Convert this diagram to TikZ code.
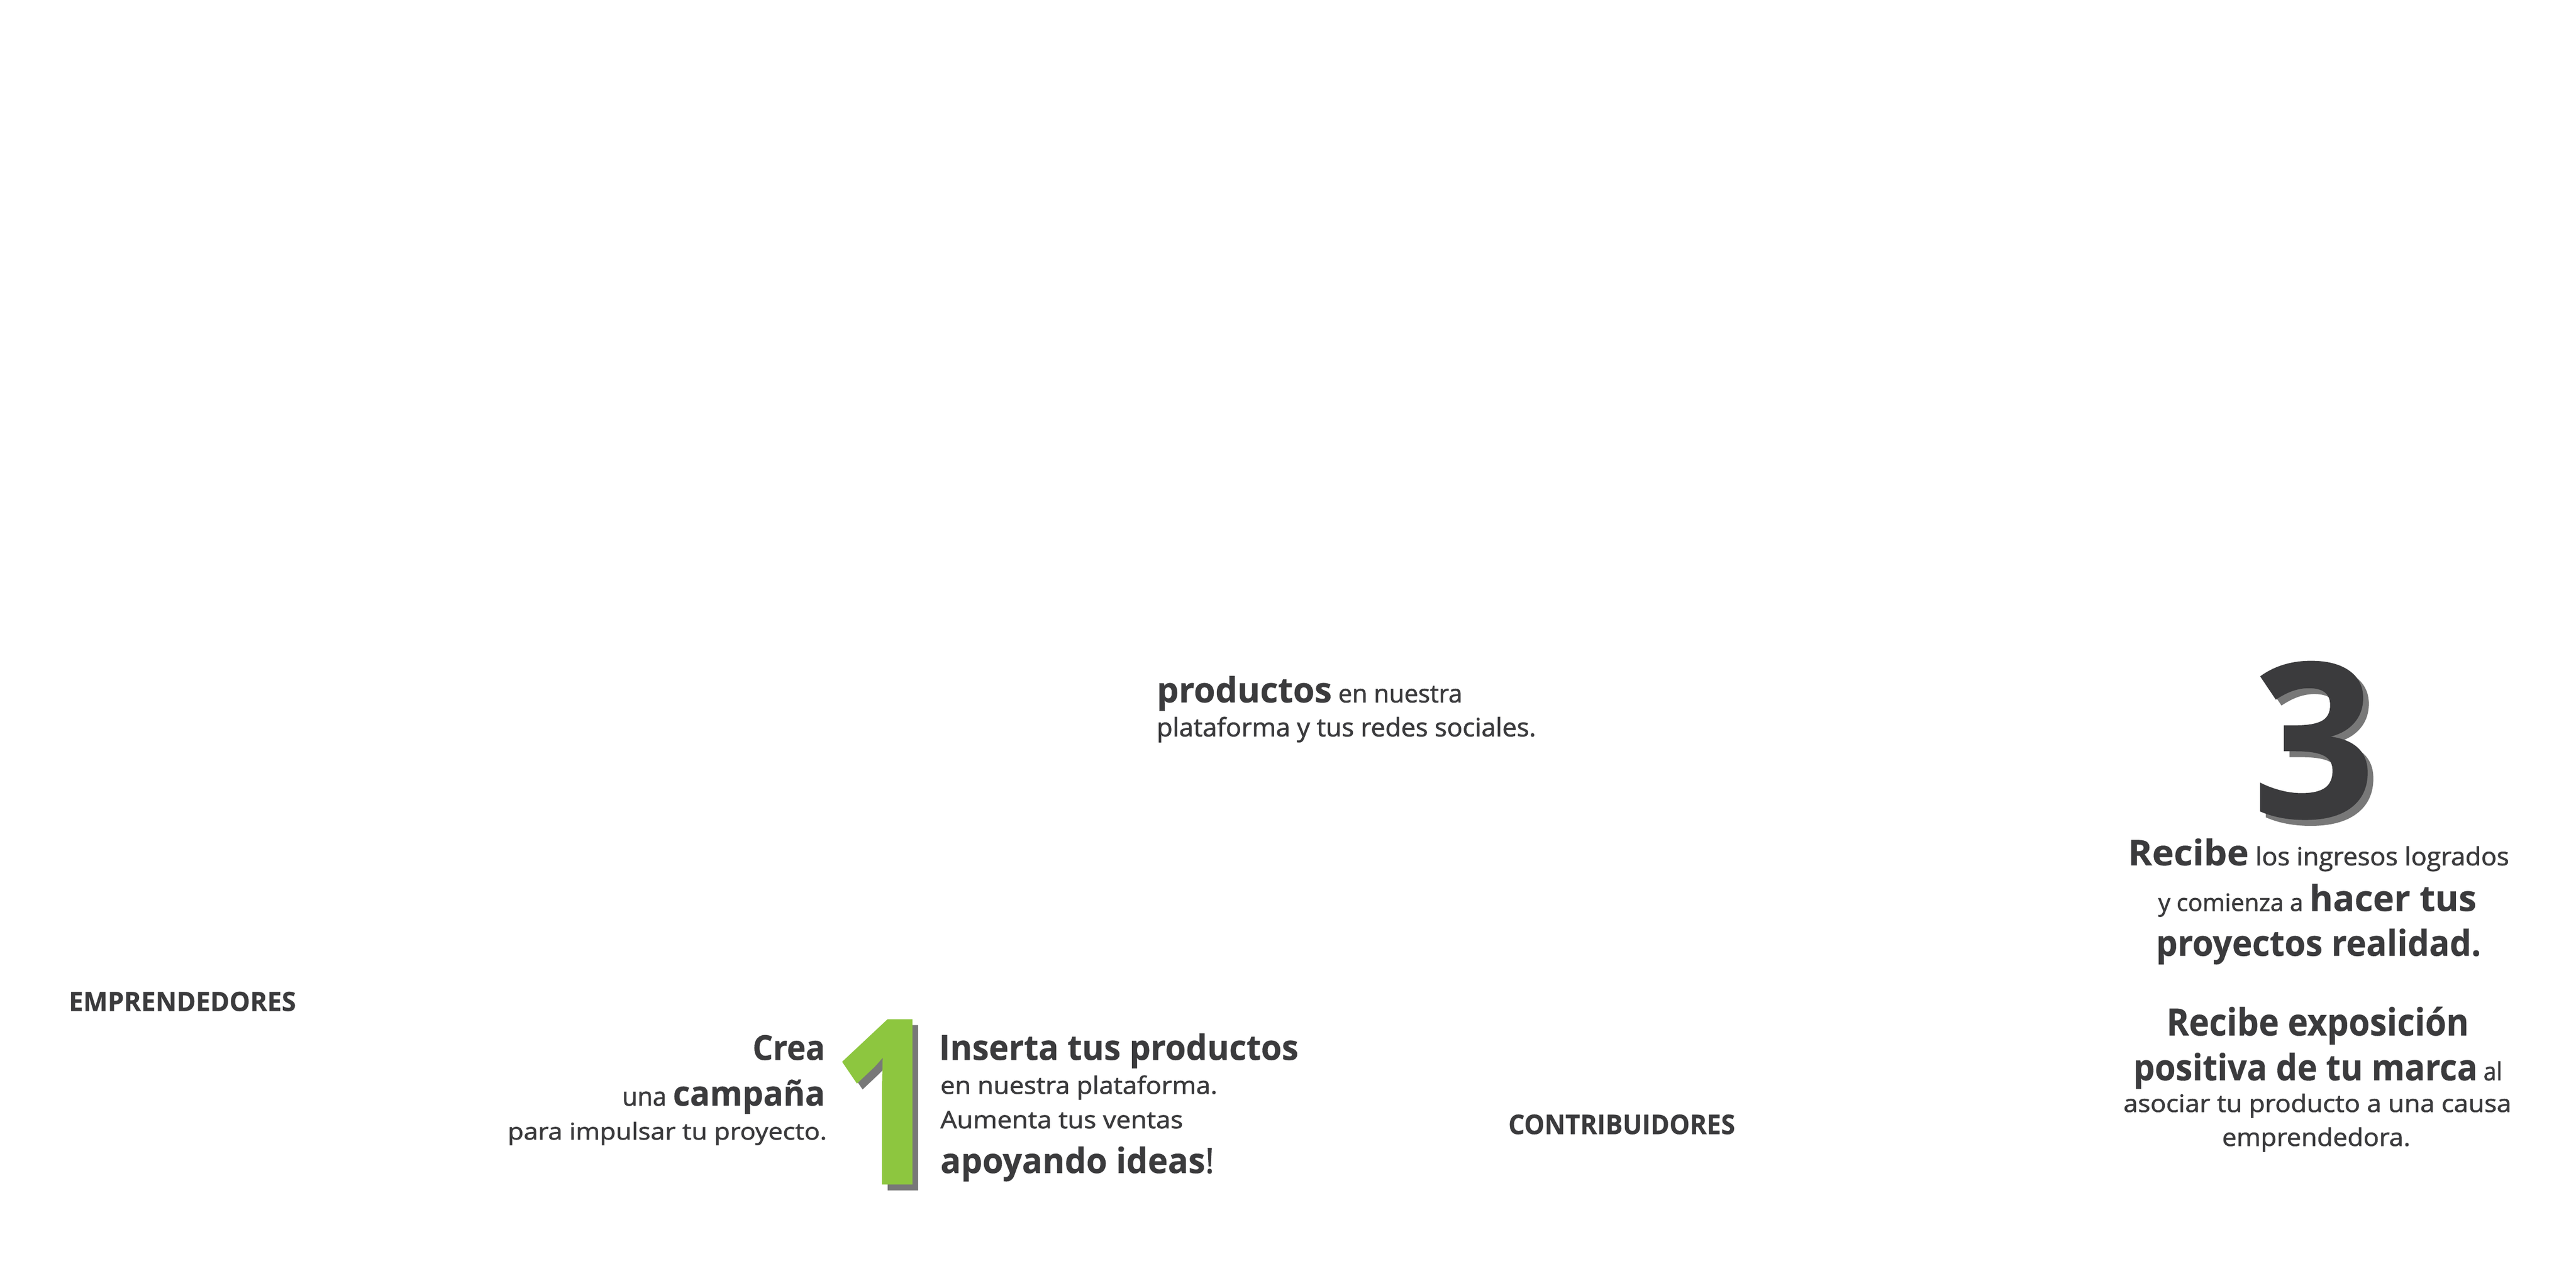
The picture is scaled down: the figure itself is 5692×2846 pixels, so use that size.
\documentclass[tikz,border=0pt]{standalone}
\usepackage{fontspec}
\setmainfont{Open Sans}[BoldFeatures={FakeBold=0.5}]
\newfontfamily\regfam{Open Sans}[UprightFeatures={FakeBold=1.6}]
\usepackage{graphicx}
\newlength\pxu \setlength\pxu{0.01cm}
\newcommand\fsz[1]{\edef\fsztmp{\the\dimexpr#1\pxu\relax}\fontsize{\fsztmp}{\fsztmp}\selectfont}
\newcommand\fitw[2]{\resizebox{#1\pxu}{\height}{#2}}
\newcommand\rgf[1]{\regfam\fsz{#1}\mdseries}
\newcommand\bdf[1]{\normalfont\fsz{#1}\bfseries}
\definecolor{ink}{RGB}{59,59,61}
\definecolor{leaf}{RGB}{141,198,63}
\definecolor{shade}{RGB}{120,120,120}
\begin{document}
\begin{tikzpicture}[x=0.01cm,y=-0.01cm,
  txt/.style={inner sep=0pt,outer sep=0pt,text=ink},
  bw/.style={txt,anchor=base west},
  be/.style={txt,anchor=base east},
  bignum/.style={txt,anchor=base}]
\fill[white] (0,0) rectangle (5692,2846);
\useasboundingbox (0,0) rectangle (5692,2846);
% headings
\node[bw] (emp) at (152,2234) {\fitw{502}{\bdf{59}EMPRENDEDORES}};
\node[bw] (con) at (3333,2506) {\fitw{501}{\bdf{60}CONTRIBUIDORES}};
% top middle
\node[bw] (t1) at (2556,1552) {\fitw{675}{\bdf{77}productos\rgf{55} en nuestra}};
\node[bw] (t2) at (2556,1627) {\fitw{838}{\rgf{56}plataforma y tus redes sociales.}};
% left block
\node[be] (l1) at (1823,2342) {\fitw{160}{\bdf{76}Crea}};
\node[be] (l2) at (1823,2443) {\fitw{448}{\rgf{57}una \bdf{76}campaña}};
\node[be] (l3) at (1827,2518) {\fitw{705}{\rgf{51}para impulsar tu proyecto.}};
% number 1
\node[bignum,text=shade] (oneshadow) at (1972.5,2629) {\scalebox{0.85}[1]{\bdf{508}1}};
\node[bignum,text=leaf] (one) at (1960,2616) {\scalebox{0.85}[1]{\bdf{508}1}};
% middle block
\node[bw] (m1) at (2075,2342) {\fitw{794}{\bdf{77}Inserta tus productos}};
\node[bw] (m2) at (2078,2417) {\fitw{612}{\rgf{53}en nuestra plataforma.}};
\node[bw] (m3) at (2078,2493) {\fitw{536}{\rgf{53}Aumenta tus ventas}};
\node[bw] (m4) at (2078,2592) {\fitw{605}{\bdf{77}apoyando ideas\rgf{77}!}};
% number 3
\node[bignum,text=shade] (threeshadow) at (5125.5,1819) {\bdf{476}3};
\node[bignum] (three) at (5113,1806) {\bdf{476}3};
% right block
\node[bw] (r1) at (4702,1912) {\fitw{842}{\bdf{78}Recibe\rgf{55} los ingresos logrados}};
\node[bw] (r2) at (4769,2013) {\fitw{703}{\rgf{53}y comienza a \bdf{79}hacer tus}};
\node[bw] (r3) at (4764,2112) {\fitw{718}{\bdf{79}proyectos realidad.}};
\node[bw] (r4) at (4787,2288) {\fitw{668}{\bdf{83}Recibe exposición}};
\node[bw] (r5) at (4714,2387) {\fitw{815}{\bdf{80}positiva de tu marca\rgf{55} al}};
\node[bw] (r6) at (4692,2457) {\fitw{857}{\rgf{53}asociar tu producto a una causa}};
\node[bw] (r7) at (4910,2532) {\fitw{416}{\rgf{54}emprendedora.}};
\end{tikzpicture}
\end{document}
